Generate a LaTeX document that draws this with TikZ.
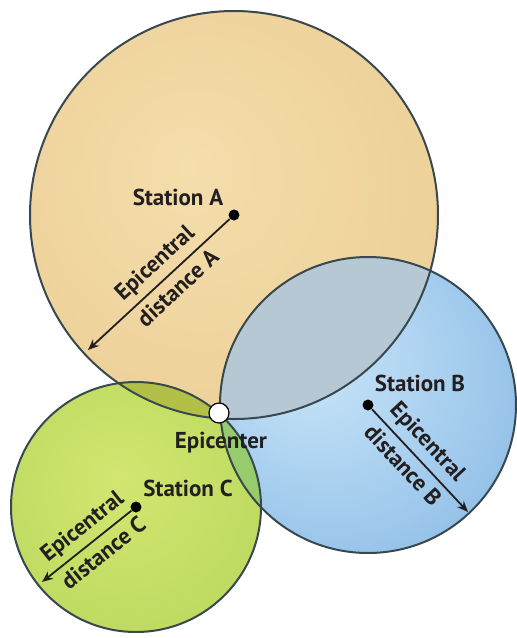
\documentclass[tikz,border=0pt]{standalone}
\usepackage{fontspec}
\setsansfont{PT Sans}
\usetikzlibrary{arrows.meta}

\definecolor{tanIn}{RGB}{244,222,172}
\definecolor{tanOut}{RGB}{222,178,112}
\definecolor{blueIn}{RGB}{205,232,250}
\definecolor{blueOut}{RGB}{52,128,204}
\definecolor{grnIn}{RGB}{210,230,112}
\definecolor{grnOut}{RGB}{124,182,50}
\definecolor{mixAB}{RGB}{182,200,212}
\definecolor{mixAC}{RGB}{178,192,72}
\definecolor{mixBC}{RGB}{150,204,110}
\definecolor{rimgray}{RGB}{56,72,78}
\definecolor{txtgray}{RGB}{35,31,32}

\pgfdeclareradialshading{sphA}{\pgfpoint{-6bp}{6bp}}{color(0bp)=(tanIn); color(28bp)=(tanIn!70!tanOut); color(50bp)=(tanOut)}
\pgfdeclareradialshading{sphB}{\pgfpoint{-12bp}{10bp}}{color(0bp)=(blueIn); color(30bp)=(blueIn!65!blueOut); color(50bp)=(blueOut)}
\pgfdeclareradialshading{sphC}{\pgfpoint{-4bp}{6bp}}{color(0bp)=(grnIn); color(30bp)=(grnIn!75!grnOut); color(50bp)=(grnOut)}

\begin{document}
\begin{tikzpicture}[x=0.5pt,y=-0.5pt,
  rim/.style={draw=rimgray,line width=1pt},
  stn/.style={circle,fill=black,inner sep=0pt,minimum size=5.5pt},
  lbl/.style={font=\sffamily\bfseries\fontsize{11.5}{13}\selectfont,text=txtgray},
  dlbl/.style={lbl,sloped,inner sep=3pt},
  arr/.style={-{Stealth[length=5.5pt,width=4.5pt]},line width=0.9pt,draw=txtgray}]
	\useasboundingbox (0,0) rectangle (516,638);
	%centres
	\coordinate (cA) at (234,215);
	\coordinate (cB) at (368,405);
	\coordinate (cC) at (136,507);

	%spheres
	\shade[shading=sphA] (cA) circle[radius=204];
	\shade[shading=sphB] (cB) circle[radius=148];
	\shade[shading=sphC] (cC) circle[radius=125];

	%overlaps
	\begin{scope}
		\clip (cA) circle[radius=204];
		\fill[mixAB] (cB) circle[radius=148];
		\fill[mixAC] (cC) circle[radius=125];
	\end{scope}
	\begin{scope}
		\clip (cB) circle[radius=148];
		\fill[mixBC] (cC) circle[radius=125];
	\end{scope}

	%outlines
	\draw[rim] (cA) circle[radius=204];
	\draw[rim] (cB) circle[radius=148];
	\draw[rim] (cC) circle[radius=125];

	%stations and epicenter
	\node[stn] (stA) at (cA) {};
	\node[stn] (stB) at (cB) {};
	\node[stn] (stC) at (cC) {};
	\node[circle,draw=black,fill=white,line width=0.6pt,inner sep=0pt,minimum size=10pt] (epi) at (219,413) {};

	\node[lbl] (labA) at (178,197) {Station A};
	\node[lbl] (labB) at (420,383) {Station B};
	\node[lbl] (labC) at (188,488) {Station C};
	\node[lbl] (labE) at (221,443) {Epicenter};

	%distance arrows
	\coordinate (endA) at (88,350);
	\coordinate (endB) at (468,512);
	\coordinate (endC) at (42,582);
	\draw[arr] (stA) -- (endA) node[dlbl,pos=0.44,above] {Epicentral} node[dlbl,pos=0.44,below] {distance A};
	\draw[arr] (stB) -- (endB) node[dlbl,pos=0.44,above] {Epicentral} node[dlbl,pos=0.44,below] {distance B};
	\draw[arr] (stC) -- (endC) node[dlbl,pos=0.42,above] {Epicentral} node[dlbl,pos=0.42,below] {distance C};
\end{tikzpicture}
\end{document}
